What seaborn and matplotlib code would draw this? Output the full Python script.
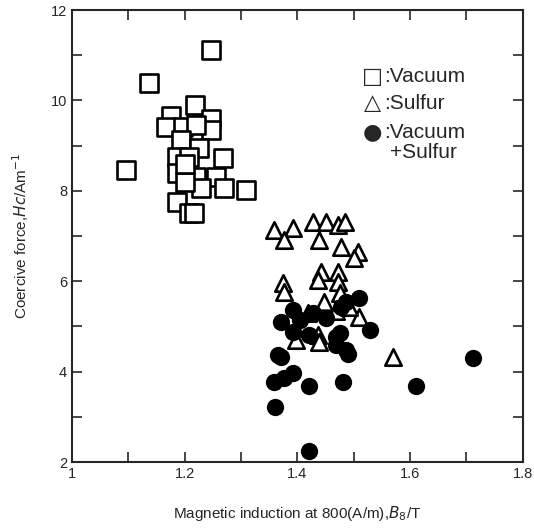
# Coercive force vs magnetic induction for three treatments
import pandas as pd
import matplotlib.pyplot as plt
import seaborn as sns
from matplotlib.ticker import MultipleLocator

# Vacuum (open squares)
vac_b = [1.246, 1.137, 1.095, 1.218, 1.175, 1.167, 1.246, 1.246, 1.196, 1.220,
         1.193, 1.226, 1.187, 1.208, 1.267, 1.187, 1.220, 1.255, 1.229, 1.270,
         1.309, 1.187, 1.208, 1.216, 1.200, 1.200]
vac_hc = [11.12, 10.39, 8.46, 9.90, 9.65, 9.42, 9.60, 9.35, 9.42, 9.46,
          9.12, 8.94, 8.75, 8.75, 8.72, 8.39, 8.31, 8.31, 8.06, 8.06,
          8.02, 7.76, 7.50, 7.50, 8.20, 8.60]

# Sulfur (open triangles)
sul_b = [1.359, 1.392, 1.377, 1.427, 1.451, 1.472, 1.484, 1.439, 1.478, 1.507,
         1.501, 1.442, 1.472, 1.436, 1.472, 1.374, 1.377, 1.448, 1.475, 1.469,
         1.510, 1.436, 1.398, 1.418, 1.492, 1.569, 1.439]
sul_hc = [7.13, 7.17, 6.91, 7.31, 7.31, 7.24, 7.31, 6.91, 6.76, 6.65,
          6.51, 6.21, 6.21, 6.03, 5.99, 5.95, 5.77, 5.55, 5.73, 5.33,
          5.21, 4.81, 4.70, 5.29, 5.44, 4.33, 4.66]

# Vacuum + Sulfur (filled circles)
vs_b = [1.510, 1.392, 1.371, 1.404, 1.427, 1.451, 1.478, 1.487, 1.528, 1.475,
        1.392, 1.421, 1.487, 1.365, 1.469, 1.489, 1.712, 1.480, 1.611, 1.421,
        1.392, 1.377, 1.359, 1.371, 1.361, 1.421, 1.469]
vs_hc = [5.62, 5.36, 5.10, 5.14, 5.29, 5.18, 5.44, 5.55, 4.92, 4.85,
         4.88, 4.81, 4.48, 4.37, 4.59, 4.40, 4.31, 3.78, 3.69, 3.68,
         3.96, 3.85, 3.78, 4.33, 3.22, 2.25, 4.77]

x_ticks = [1, 1.2, 1.4, 1.6, 1.8]
x_labels = ['1', '1.2', '1.4', '1.6', '1.8']
y_ticks = [2, 4, 6, 8, 10, 12]
y_labels = ['2', '4', '6', '8', '10', '12']

legend_symbols = ['\u25a1', '\u25b3', '\u25cf', '']
legend_texts = [':Vacuum', ':Sulfur', ':Vacuum', '+Sulfur']

sns.set_style("ticks")
plt.rcParams['font.family'] = ['Liberation Sans', 'DejaVu Sans']

fig = plt.figure(figsize=(5.34, 5.28), dpi=100)
ax = fig.add_axes([0.135, 0.125, 0.844, 0.856])

sns.scatterplot(x=vac_b, y=vac_hc, marker='s', s=150, facecolor='white',
                edgecolor='black', linewidth=1.9, ax=ax, zorder=3)
sns.scatterplot(x=sul_b, y=sul_hc, marker='^', s=140, facecolor='white',
                edgecolor='black', linewidth=1.9, ax=ax, zorder=4)
sns.scatterplot(x=vs_b, y=vs_hc, marker='o', s=155, color='black',
                edgecolor='black', linewidth=0, ax=ax, zorder=5)

ax.set_xlim(1, 1.8)
ax.set_ylim(2, 12)
ax.set_xticks(x_ticks)
ax.set_xticklabels(x_labels)
ax.set_yticks(y_ticks)
ax.set_yticklabels(y_labels)
ax.xaxis.set_minor_locator(MultipleLocator(0.1))
ax.yaxis.set_minor_locator(MultipleLocator(1))
ax.tick_params(which='both', direction='in', top=True, right=True,
               length=7, width=1.2, labelsize=10.5)
for sp in ax.spines.values():
    sp.set_linewidth(1.5)

ax.set_xlabel('Magnetic induction at 800(A/m),$\\mathit{B}_8$/T', fontsize=11, labelpad=17)
ax.set_ylabel('Coercive force,$\\mathit{Hc}$/Am$^{-1}$', fontsize=11, labelpad=14)

# legend written as text, like the original figure
rows_y = [0.852, 0.794, 0.730, 0.684]
for sym, txt, yy in zip(legend_symbols, legend_texts, rows_y):
    if sym:
        ax.text(0.666, yy, sym, transform=ax.transAxes, fontsize=16,
                va='center', ha='center', family='DejaVu Sans')
    ax.text(0.692 if sym else 0.705, yy, txt, transform=ax.transAxes,
            fontsize=15, va='center', ha='left')

plt.savefig('out.png', dpi=100)
